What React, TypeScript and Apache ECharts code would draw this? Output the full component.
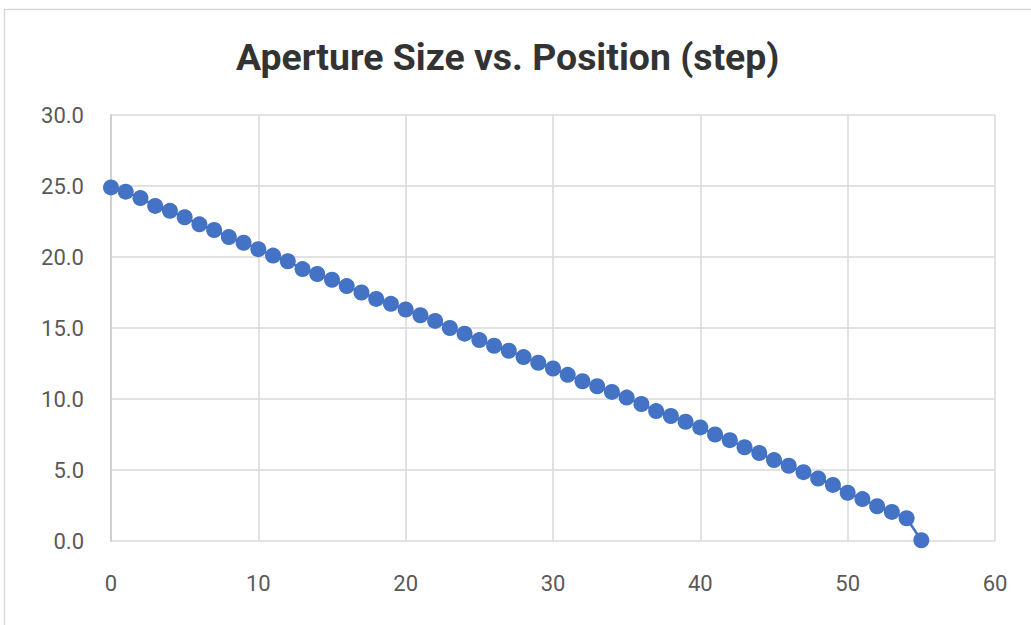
import React, { useEffect, useRef } from "react";
import * as echarts from "echarts";

const positions: number[] = [
  0, 1, 2, 3, 4, 5, 6, 7, 8, 9, 10, 11, 12, 13, 14, 15, 16, 17, 18, 19, 20, 21, 22, 23, 24, 25, 26, 27,
  28, 29, 30, 31, 32, 33, 34, 35, 36, 37, 38, 39, 40, 41, 42, 43, 44, 45, 46, 47, 48, 49, 50, 51, 52,
  53, 54, 55,
];
const apertureSizes: number[] = [
  24.9, 24.6, 24.15, 23.6, 23.25, 22.8, 22.3, 21.9, 21.4, 21.0, 20.55, 20.1, 19.7, 19.15, 18.8, 18.4,
  17.95, 17.5, 17.05, 16.7, 16.3, 15.9, 15.5, 15.0, 14.6, 14.15, 13.75, 13.4, 12.95, 12.55, 12.15, 11.7,
  11.25, 10.9, 10.5, 10.1, 9.65, 9.15, 8.8, 8.4, 8.0, 7.5, 7.1, 6.6, 6.2, 5.7, 5.3, 4.85, 4.4, 3.95,
  3.4, 2.95, 2.45, 2.05, 1.6, 0.05,
];
const titleText = "Aperture Size vs. Position (step)";

export default function App() {
  const ref = useRef<HTMLDivElement>(null);
  useEffect(() => {
    if (!ref.current) return;
    const chart = echarts.init(ref.current, undefined, { renderer: "svg" });
    chart.setOption({
      animation: false,
      backgroundColor: "#ffffff",
      title: {
        text: titleText,
        left: 231,
        top: 33,
        textStyle: {
          fontFamily: "Roboto",
          fontWeight: "bold",
          fontSize: 37.4,
          color: "#333333",
        },
      },
      graphic: [
        {
          type: "rect",
          shape: { x: 4.5, y: 9.5, width: 1100, height: 700 },
          style: { fill: "none", stroke: "#d9d9d9", lineWidth: 1.5 },
          silent: true,
          z: -1,
        },
      ],
      grid: { left: 111, right: 36, top: 115, bottom: 84, containLabel: false },
      xAxis: {
        type: "value",
        min: 0,
        max: 60,
        interval: 10,
        axisLine: { show: false },
        axisTick: { show: false },
        splitLine: { show: true, lineStyle: { color: "#d9d9d9", width: 1.5 } },
        axisLabel: {
          margin: 31,
          fontFamily: "Roboto",
          fontSize: 22,
          color: "#595959",
        },
      },
      yAxis: {
        type: "value",
        min: 0,
        max: 30,
        interval: 5,
        axisLine: { show: true, lineStyle: { color: "#d0d0d0", width: 2 } },
        axisTick: { show: false },
        splitLine: { show: true, lineStyle: { color: "#d9d9d9", width: 1.5 } },
        axisLabel: {
          margin: 27,
          fontFamily: "Roboto",
          fontSize: 22,
          color: "#595959",
          formatter: (v: number) => v.toFixed(1),
        },
      },
      series: [
        {
          type: "line",
          data: positions.map((p, i) => [p, apertureSizes[i]]),
          symbol: "circle",
          symbolSize: 16,
          lineStyle: { color: "#4472C4", width: 2.5 },
          itemStyle: { color: "#4472C4" },
        },
      ],
    });
    return () => chart.dispose();
  }, []);
  return (
    <div
      ref={ref}
      style={{ position: "fixed", left: 0, top: 0, width: 1031, height: 625 }}
    />
  );
}
